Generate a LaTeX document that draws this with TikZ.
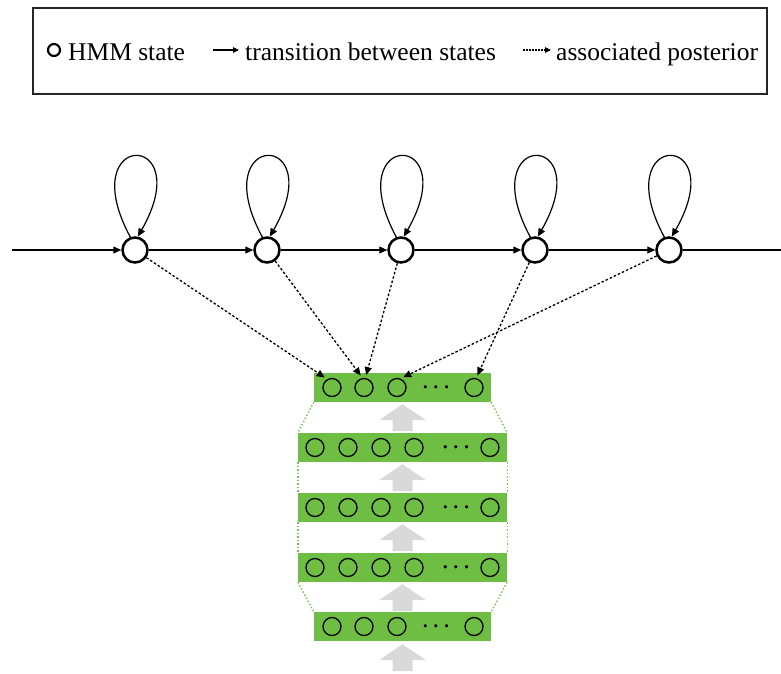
\documentclass[tikz,border=0pt]{standalone}
\usepackage{fontspec}
\setmainfont{Liberation Serif}
\usetikzlibrary{arrows.meta,calc}

\definecolor{layergreen}{RGB}{110,190,68}
\definecolor{guidegreen}{RGB}{125,196,85}
\definecolor{flowgray}{RGB}{217,217,217}

\tikzset{
  state/.style={circle, draw=black, line width=2.5pt, minimum size=25pt, inner sep=0pt},
  legendstate/.style={circle, draw=black, line width=2.2pt, minimum size=12pt, inner sep=0pt},
  unit/.style={circle, draw=black, line width=1.3pt, minimum size=18pt, inner sep=0pt},
  layer/.style={rectangle, fill=layergreen, inner sep=0pt, minimum height=29pt},
  trans/.style={line width=1.2pt, -{Triangle[length=8pt,width=7pt]}},
  post/.style={line width=1.3pt, dash pattern=on 2.5pt off 2pt, shorten >=3pt,
    -{Triangle[length=8pt,width=7pt]}},
  legendtip/.style={-{Triangle[length=6pt,width=5.5pt]}},
  guide/.style={guidegreen, line width=1.4pt, dash pattern=on 1.5pt off 2pt},
  label/.style={inner sep=0pt, anchor=base west, font=\fontsize{25.5}{30}\selectfont},
  dotsnode/.style={inner sep=0pt, font=\fontsize{21}{24}\selectfont\boldmath},
  blockup/.pic={\fill[flowgray] (0,0) -- (23.5,16) -- (10,16) -- (10,27)
    -- (-10,27) -- (-10,16) -- (-23.5,16) -- cycle;}
}

\begin{document}
\begin{tikzpicture}[x=1pt, y=-1pt]
\useasboundingbox (0,0) rectangle (781,673);

% legend
\node[draw=black!85, line width=1.2pt, minimum width=734pt, minimum height=86pt, inner sep=0pt] (legend) at (400,51) {};
\node[legendstate] (lstate) at (54,50) {};
\node[label] (lhmm) at (68,60) {HMM state};
\coordinate (la1) at (213,50);
\coordinate (la2) at (239,50);
\draw[line width=1.2pt, legendtip] (la1) -- (la2);
\node[label] (ltrans) at (245,60) {transition between states};
\coordinate (lb1) at (523,50);
\coordinate (lb2) at (551,50);
\draw[line width=1.2pt, dash pattern=on 1.5pt off 1.5pt, legendtip] (lb1) -- (lb2);
\node[label] (lpost) at (556,60) {associated posterior};

% HMM states and chain
\node[state] (s1) at (135,250) {};
\node[state] (s2) at (267,250) {};
\node[state] (s3) at (401,250) {};
\node[state] (s4) at (535,250) {};
\node[state] (s5) at (669,250) {};
\coordinate (in) at (12,250);
\coordinate (out) at (781,250);
\draw[trans] (in) -- (s1);
\draw[trans] (s1) -- (s2);
\draw[trans] (s2) -- (s3);
\draw[trans] (s3) -- (s4);
\draw[trans] (s4) -- (s5);
\draw[line width=1.2pt] (s5) -- (out);

% self transitions
\foreach \s in {s1,s2,s3,s4,s5}
  \draw[trans] (\s.110) .. controls +(-58,-108) and +(61,-107) .. (\s.78);

% network layers
\node[layer, minimum width=177pt] (L1) at (402.5,387.5) {};
\node[layer, minimum width=209pt] (L2) at (402.5,447.5) {};
\node[layer, minimum width=209pt] (L3) at (402.5,507.5) {};
\node[layer, minimum width=209pt] (L4) at (402.5,567.5) {};
\node[layer, minimum width=177pt] (L5) at (402.5,626.5) {};

% units of the narrow layers
\foreach \l/\y in {1/387.5, 5/626.5} {
  \foreach \x [count=\i] in {332,364,397,474}
    \node[unit] (u\l-\i) at (\x,\y) {};
  \node[dotsnode] (d\l) at (436,\y) {$\cdots$};
}
% units of the wide layers
\foreach \l/\y in {2/447.5, 3/507.5, 4/567.5} {
  \foreach \x [count=\i] in {315,348,381,414,490}
    \node[unit] (u\l-\i) at (\x,\y) {};
  \node[dotsnode] (d\l) at (456,\y) {$\cdots$};
}

% guides between layers
\draw[guide] (L1.south west) -- (L2.north west);
\draw[guide] (L2.south west) -- (L3.north west);
\draw[guide] (L3.south west) -- (L4.north west);
\draw[guide] (L4.south west) -- (L5.north west);
\draw[guide] (L1.south east) -- (L2.north east);
\draw[guide] (L2.south east) -- (L3.north east);
\draw[guide] (L3.south east) -- (L4.north east);
\draw[guide] (L4.south east) -- (L5.north east);

% forward flow
\pic at ($(L1.south)+(0,2)$) {blockup};
\pic at ($(L2.south)+(0,2)$) {blockup};
\pic at ($(L3.south)+(0,2)$) {blockup};
\pic at ($(L4.south)+(0,2)$) {blockup};
\pic at ($(L5.south)+(0,3)$) {blockup};

% posteriors
\draw[post] (s1) -- (u1-1.120);
\draw[post] (s2) -- (u1-2.99);
\draw[post] (s3) -- (u1-2.82);
\draw[post] (s4) -- (u1-4.77);
\draw[post] (s5) -- (u1-3.69);
\end{tikzpicture}
\end{document}
